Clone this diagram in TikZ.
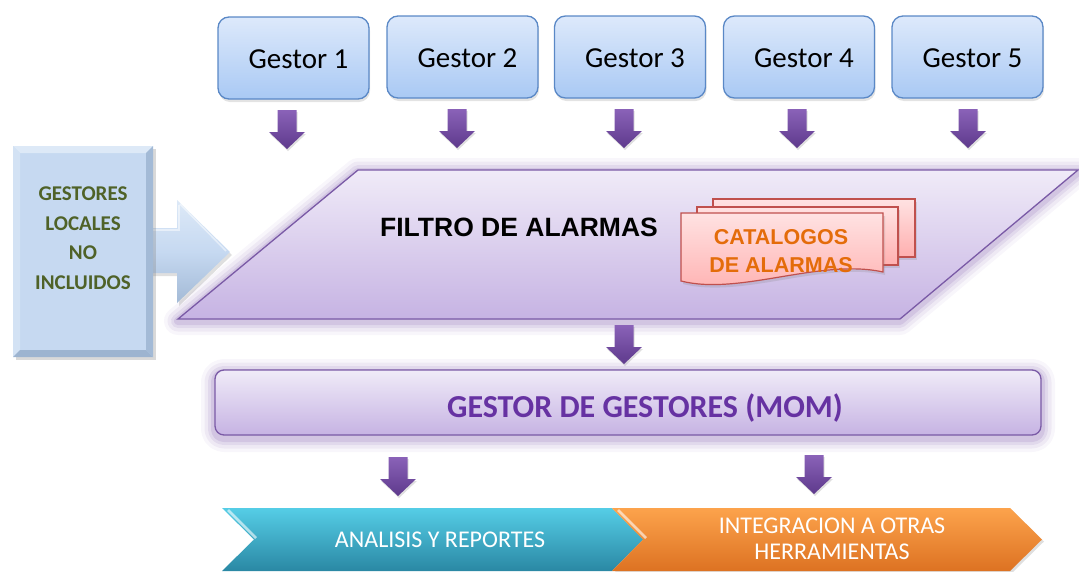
\documentclass[tikz,border=0pt]{standalone}
\usepackage{fontspec}
\setmainfont{Carlito}
\newfontfamily\arialfont{Liberation Sans}
\usetikzlibrary{shadows}
\definecolor{gtop}{HTML}{DDE9FB}
\definecolor{gbot}{HTML}{A9C9F4}
\definecolor{gline}{HTML}{5A88C6}
\definecolor{ptop}{HTML}{8A62B8}
\definecolor{pbot}{HTML}{5E3A8C}
\definecolor{flttop}{HTML}{F0EBF8}
\definecolor{fltbot}{HTML}{C6B3E3}
\definecolor{fltline}{HTML}{7A5AA6}
\definecolor{glowc}{HTML}{8A6AB4}
\definecolor{lbbase}{HTML}{C6D9F1}
\definecolor{lblight}{HTML}{DDE9F7}
\definecolor{lbleft}{HTML}{D3E2F4}
\definecolor{lbdark}{HTML}{A3BAD6}
\definecolor{lbbottom}{HTML}{9DB4D0}
\definecolor{lbtext}{HTML}{4F6228}
\definecolor{pinktop}{HTML}{FFE2E2}
\definecolor{pinkbot}{HTML}{FFAFAF}
\definecolor{pinkline}{HTML}{C0504D}
\definecolor{cattext}{HTML}{E46C0A}
\definecolor{momtext}{HTML}{6632A2}
\definecolor{cyantop}{HTML}{55CDE6}
\definecolor{cyanmid}{HTML}{33A9C6}
\definecolor{cyanbot}{HTML}{2A88A4}
\definecolor{orgtop}{HTML}{FCA34C}
\definecolor{orgmid}{HTML}{F68B2B}
\definecolor{orgbot}{HTML}{DD7222}
\newcommand{\purplearrow}[2]{%
  \path[blockarrow] (#1-9.5,#2) -- (#1+9.5,#2) -- (#1+9.5,#2+22) -- (#1+18,#2+22)
    -- (#1,#2+39) -- (#1-18,#2+22) -- (#1-9.5,#2+22) -- cycle;}
\newcommand{\gtext}[1]{\hspace*{10pt}\raisebox{-10.5pt}[0pt][0pt]{#1}}
\begin{document}
\begin{tikzpicture}[x=1pt,y=-1pt,
  gestorbox/.style={draw=gline, line width=1.3pt, rounded corners=11pt,
    top color=gtop, bottom color=gbot, minimum width=151pt, minimum height=82pt,
    inner sep=0pt, font=\fontsize{29}{34}\selectfont,
    drop shadow={opacity=0.22, shadow xshift=1pt, shadow yshift=-3pt}},
  blockarrow/.style={top color=ptop, bottom color=pbot, draw=none,
    drop shadow={opacity=0.25, shadow xshift=1pt, shadow yshift=-2pt}},
  glowline/.style={draw=glowc, line join=round},
  catpage/.style={top color=pinktop, bottom color=pinkbot, draw=pinkline, line width=1.2pt,
    drop shadow={opacity=0.22, shadow xshift=2pt, shadow yshift=-3pt}},
  chevtext/.style={text=white, align=center, font=\fontsize{24}{26}\selectfont}
]
\useasboundingbox (0,0) rectangle (1079,571);

% Gestor boxes
\node[gestorbox] (g1) at (293.5,58) {\gtext{Gestor 1}};
\node[gestorbox] (g2) at (462.5,57) {\gtext{Gestor 2}};
\node[gestorbox] (g3) at (630,57) {\gtext{Gestor 3}};
\node[gestorbox] (g4) at (799,57) {\gtext{Gestor 4}};
\node[gestorbox] (g5) at (967.5,57) {\gtext{Gestor 5}};

% arrows below gestors
\purplearrow{287}{110}
\purplearrow{457}{109}
\purplearrow{624}{109}
\purplearrow{797}{109}
\purplearrow{968}{109}

% glow of the filter parallelogram
\foreach \w/\o in {28/0.06,21/0.09,14/0.13,8/0.18}{
  \draw[glowline, line width=\w pt, opacity=\o] (178,321)--(358,172)--(1078,172)--(900,321)--cycle;
}
% filter parallelogram
\path[top color=flttop, bottom color=fltbot, draw=fltline, line width=1.3pt]
  (178,319)--(358,170)--(1078,170)--(900,319)--cycle;
\node[font=\arialfont\bfseries\fontsize{26.5}{30}\selectfont] (filtro) at (519,227) {FILTRO DE ALARMAS};

% catalog stack
\path[catpage] (713,199) rectangle (915,257);
\path[catpage] (697,207) rectangle (898,265);
\path[catpage] (681,213) -- (883,213) -- (883,272) .. controls (820,258) and (740,296) .. (681,281) -- cycle;
\node[align=center, text=cattext, font=\arialfont\bfseries\fontsize{21.5}{28}\selectfont] (cat) at (781,251) {CATALOGOS\\DE ALARMAS};

% left arrow
\path[top color=lblight, bottom color=lbdark, middle color=lbbase,
  drop shadow={opacity=0.25, shadow xshift=2pt, shadow yshift=-3pt}]
  (140,228) -- (177,228) -- (177,200) -- (230,252) -- (177,303) -- (177,273) -- (140,273) -- cycle;
\draw[white, opacity=0.5, line width=1.5pt] (141,230) -- (179,230) -- (179,205);
\draw[white, opacity=0.5, line width=1.5pt] (180,204) -- (226,251);

% left box
\node[fill=lbbase, minimum width=140pt, minimum height=211pt, inner sep=0pt,
  drop shadow={opacity=0.3, shadow xshift=3pt, shadow yshift=-3pt}] (lb) at (83,251.5) {};
\fill[lblight] (13,146)--(153,146)--(146,153)--(20,153)--cycle;
\fill[lbleft] (13,146)--(20,153)--(20,350)--(13,357)--cycle;
\fill[lbdark] (153,146)--(153,357)--(146,350)--(146,153)--cycle;
\fill[lbbottom] (13,357)--(153,357)--(146,350)--(20,350)--cycle;
\node[align=center, text=lbtext, font=\bfseries\fontsize{21}{29.5}\selectfont] (lbt) at (83,238) {GESTORES\\LOCALES\\NO\\INCLUIDOS};

% arrow filter -> MOM
\purplearrow{624}{325}

% MOM glow and box
\foreach \w/\o in {28/0.06,21/0.09,14/0.13,8/0.18}{
  \draw[glowline, line width=\w pt, opacity=\o, rounded corners=9pt] (215,373) rectangle (1041,438);
}
\node[draw=fltline, line width=1.3pt, rounded corners=9pt, top color=flttop, bottom color=fltbot,
  minimum width=826pt, minimum height=65pt, inner sep=0pt] (mom) at (628,402.5) {};
\node[text=momtext, font=\bfseries\fontsize{32}{36}\selectfont] (momt) at (645,408.5) {GESTOR DE GESTORES (MOM)};

% arrows below MOM
\purplearrow{398}{457}
\purplearrow{814}{455}

% bottom chevrons
\path[top color=cyantop, middle color=cyanmid, bottom color=cyanbot]
  (222,508) -- (612,508) -- (643,539.5) -- (612,571) -- (222,571) -- (254,539.5) -- cycle;
\draw[white, opacity=0.6, line width=2.5pt] (228,510) -- (256,538);
\path[top color=orgtop, middle color=orgmid, bottom color=orgbot,
  drop shadow={opacity=0.25, shadow xshift=2pt, shadow yshift=-2pt}]
  (612,508) -- (1010,508) -- (1042,539.5) -- (1010,571) -- (612,571) -- (643,539.5) -- cycle;
\draw[white, opacity=0.6, line width=2.5pt] (618,510) -- (646,538);
\node[chevtext] (analisis) at (440,539.5) {ANALISIS Y REPORTES};
\node[chevtext] (integ) at (832,539) {INTEGRACION A OTRAS\\HERRAMIENTAS};
\end{tikzpicture}
\end{document}
